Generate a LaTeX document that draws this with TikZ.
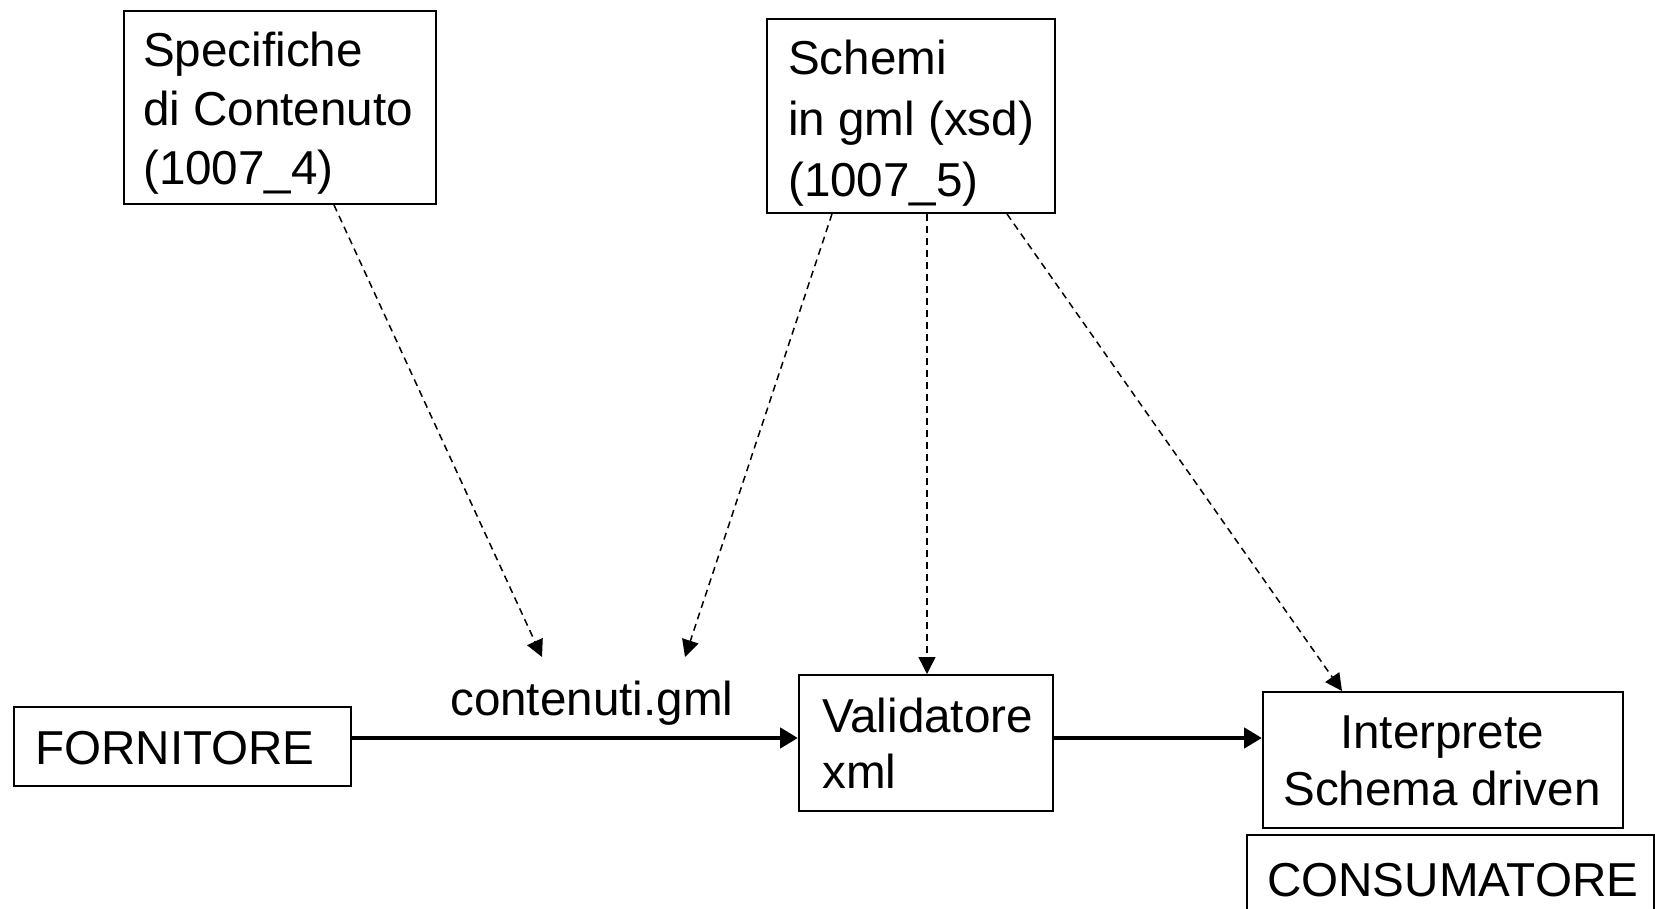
\documentclass[tikz,border=0pt]{standalone}
\usepackage{fontspec}
\setmainfont{Liberation Sans}
\usetikzlibrary{arrows.meta}
\begin{document}
\begin{tikzpicture}[x=1pt,y=-1pt,
  box/.style={draw, line width=2pt, inner sep=0pt, anchor=north west},
  txt/.style={inner sep=0pt, font=\fontsize{47.6}{58}\selectfont},
  solidarrow/.style={line width=4.5pt, -{Triangle[length=18pt,width=20pt]}},
  dasharrow/.style={line width=1.5pt, dash pattern=on 7pt off 5pt, -{Triangle[length=17pt,width=17pt]}}]
\useasboundingbox (0,0) rectangle (1655,909);
\fill[white] (0,0) rectangle (1655,909);
\clip (0,0) rectangle (1655,909);
% boxes
\node[box, minimum width=312pt, minimum height=193pt] (spec) at (123,10) {};
\node[box, minimum width=288pt, minimum height=194pt] (schemi) at (766,18) {};
\node[box, minimum width=337pt, minimum height=79pt] (forn) at (13,706) {};
\node[box, minimum width=254pt, minimum height=136pt] (val) at (798,674) {};
\node[box, minimum width=360pt, minimum height=136pt] (interp) at (1262,691) {};
\node[box, minimum width=407pt, minimum height=120pt] (cons) at (1246,834) {};
% texts
\node[txt, anchor=base west, font=\fontsize{47.6}{58.7}\selectfont] (spect) at (143,67)
  {\begin{tabular}[t]{@{}l@{}}Specifiche\\di Contenuto\\(1007\_4)\end{tabular}};
\node[txt, anchor=base west, font=\fontsize{47.6}{60.8}\selectfont] (schemit) at (788,75)
  {\begin{tabular}[t]{@{}l@{}}Schemi\\in gml (xsd)\\(1007\_5)\end{tabular}};
\node[txt, anchor=base west, font=\fontsize{47.6}{56}\selectfont] (valt) at (822,732)
  {\begin{tabular}[t]{@{}l@{}}Validatore\\xml\end{tabular}};
\node[txt, anchor=base, font=\fontsize{47.6}{57}\selectfont] (interpt) at (1442,748)
  {\begin{tabular}[t]{@{}c@{}}Interprete\\Schema driven\end{tabular}};
\node[txt, anchor=base west] (fornt) at (35,764) {FORNITORE};
\node[txt, anchor=base west] (const) at (1267,896) {CONSUMATORE};
\node[txt, anchor=base west] (cont) at (450,715) {contenuti.gml};
% connectors
\coordinate (flow) at (0,738);
\coordinate (t1) at (542,657);
\coordinate (t2) at (685,657);
\draw[solidarrow] (forn.east |- flow) -- (val.west |- flow);
\draw[solidarrow] (val.east |- flow) -- (interp.west |- flow);
\draw[dasharrow] ([xshift=54pt]spec.south) -- (t1);
\draw[dasharrow] ([xshift=-79pt]schemi.south) -- (t2);
\draw[dasharrow] ([xshift=16pt]schemi.south) -- ([xshift=1pt]val.north);
\draw[dasharrow] ([xshift=96pt]schemi.south) -- ([xshift=80pt]interp.north west);
\end{tikzpicture}
\end{document}
